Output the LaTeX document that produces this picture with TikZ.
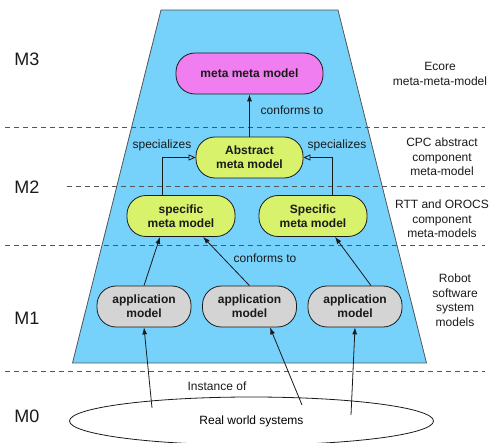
\documentclass[tikz,border=0pt]{standalone}
\usepackage{fontspec}
\setmainfont{Liberation Sans}
\usetikzlibrary{arrows.meta, shapes.geometric}
\definecolor{ink}{HTML}{1A1A1A}
\definecolor{skyB}{HTML}{76D1FB}
\definecolor{magentaA}{HTML}{F07EF0}
\definecolor{limeA}{HTML}{D9F26C}
\definecolor{grayA}{HTML}{D4D4D4}
\definecolor{grayB}{HTML}{555555}
\tikzset{
  level/.style={font=\fontsize{18}{20}\selectfont, text=ink},
  side/.style={font=\fontsize{12}{14.5}\selectfont, text=ink, align=center},
  edgetext/.style={font=\fontsize{12}{14}\selectfont, text=ink},
  box/.style={rounded corners=19pt, draw=ink, line width=0.8pt, minimum height=41pt, align=center, text=ink, font=\bfseries\fontsize{12}{14}\selectfont},
  layer/.style={draw=grayB, line width=0.9pt, dash pattern=on 5pt off 4pt},
  conforms/.style={draw=ink, line width=0.8pt, -{Latex[length=7pt,width=5pt]}},
  special/.style={draw=ink, line width=0.8pt, -{Triangle[open,length=7pt,width=6pt]}}
}

\begin{document}
\begin{tikzpicture}[x=1pt,y=1pt]
\useasboundingbox (0,0) rectangle (490,442);

% modelling space
\draw[fill=skyB, draw=grayB, line width=0.8pt] (161,432) -- (338,432) -- (426.5,79) -- (72.5,79) -- cycle;

% layer borders
\draw[layer] (5,314.3) -- (485,314.3);
\draw[layer] (67,255.3) -- (485,255.3);
\draw[layer] (5,197) -- (485,197);
\draw[layer] (5,70.3) -- (485,70.3);

\node[level] (m3) at (27,383) {M3};
\node[level] (m2) at (27,255) {M2};
\node[level] (m1) at (27,124) {M1};
\node[level] (m0) at (27,26) {M0};

\node[side] (ecore) at (440,368) {Ecore\\meta-meta-model};
\node[side] (cpc) at (442,285) {CPC abstract\\component\\meta-model};
\node[side] (rtt) at (442,223) {RTT and OROCS\\component\\meta-models};
\node[side] (robot) at (455,142) {Robot\\software\\system\\models};

% models
\node[box, fill=magentaA, minimum width=147pt] (meta) at (249.5,368.5) {meta meta model};
\node[box, fill=limeA, minimum width=107pt] (abstract) at (249.5,284.5) {Abstract\\meta model};
\node[box, fill=limeA, minimum width=108pt] (specL) at (181,226) {specific\\meta model};
\node[box, fill=limeA, minimum width=108pt] (specR) at (313,226) {Specific\\meta model};
\node[box, fill=grayA, minimum width=94pt] (appL) at (144,135.5) {application\\model};
\node[box, fill=grayA, minimum width=94pt] (appM) at (249.5,135.5) {application\\model};
\node[box, fill=grayA, minimum width=94pt] (appR) at (355,135.5) {application\\model};

\node[ellipse, draw=ink, line width=0.8pt, fill=white, minimum width=364pt, minimum height=48pt, inner sep=0pt, font=\fontsize{12}{14}\selectfont] (world) at (251.5,21) {Real world systems};

\coordinate (w1) at (152,34);
\coordinate (w2) at (302,37);
\coordinate (w3) at (351,27);

% relations
\draw[conforms] (abstract) -- (meta);
\draw[special] ([xshift=-19pt]specL.north) |- (abstract.west);
\draw[special] ([xshift=19pt]specR.north) |- (abstract.east);
\draw[conforms] (appL.north) -- ([xshift=-21pt]specL.south);
\draw[conforms] (appM.north) -- ([xshift=22pt]specL.south);
\draw[conforms] ([xshift=16pt]appR.north) -- ([xshift=22pt]specR.south);
\draw[conforms] (w1) -- (appL.south);
\draw[conforms] (w2) -- ([xshift=20.5pt]appM.south);
\draw[conforms] (w3) -- (appR.south);

\node[edgetext] (conf1) at (292,332) {conforms to};
\node[edgetext] (spec1) at (162,297) {specializes};
\node[edgetext] (spec2) at (337,297) {specializes};
\node[edgetext] (conf2) at (265,184) {conforms to};
\node[edgetext] (inst) at (217,56) {Instance of};

\end{tikzpicture}
\end{document}
